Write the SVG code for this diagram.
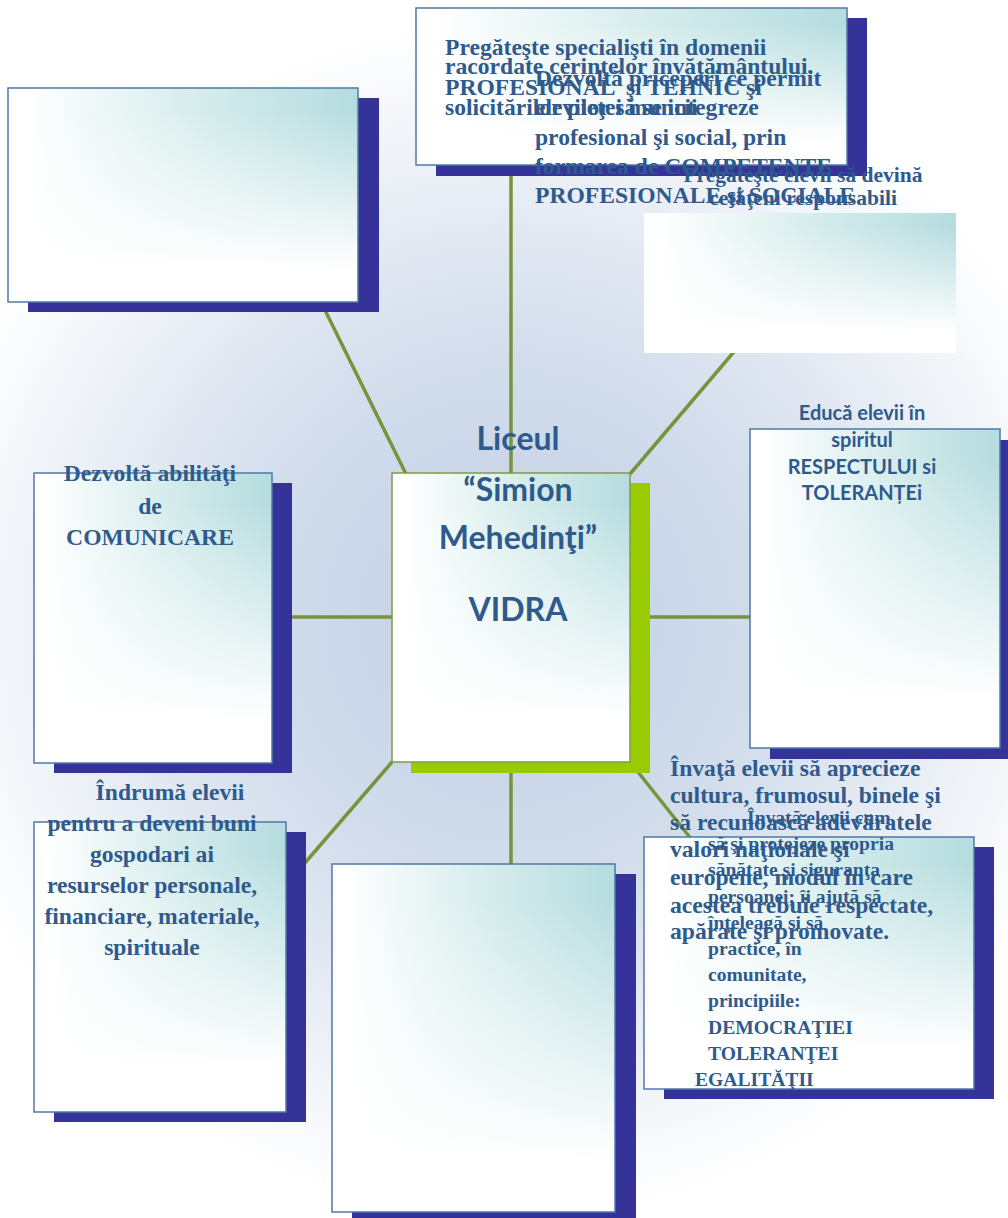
<svg xmlns="http://www.w3.org/2000/svg" width="1008" height="1218" viewBox="0 0 1008 1218">
<defs>
<radialGradient id="bg" gradientUnits="userSpaceOnUse" cx="510" cy="620" r="600">
<stop offset="0" stop-color="#c0d0e5"/>
<stop offset="0.45" stop-color="#d3ddec"/>
<stop offset="1" stop-color="#ffffff"/>
</radialGradient>
<linearGradient id="boxh" x1="0" y1="0" x2="1" y2="0">
<stop offset="0.05" stop-color="#ffffff"/>
<stop offset="0.55" stop-color="#d6ecec"/>
<stop offset="1" stop-color="#b5dcdf"/>
</linearGradient>
<linearGradient id="boxv" x1="0" y1="0" x2="0" y2="1">
<stop offset="0.1" stop-color="#ffffff" stop-opacity="0"/>
<stop offset="0.85" stop-color="#ffffff" stop-opacity="1"/>
</linearGradient>
<style>
.sh{fill:#353399}
.shg{fill:#99cc00}
.bh{fill:url(#boxh)}
.box{fill:url(#boxv);stroke:#4f78a8;stroke-width:1.5}
.cbox{fill:url(#boxv);stroke:#7f9a48;stroke-width:1.5}
.nb{fill:url(#boxv)}
.conn line{stroke:#77933c;stroke-width:3.5}
.t{font-family:"Liberation Serif","Times New Roman",serif;font-weight:bold;fill:#2f5a8c;font-size:23.6px}
.ts{font-size:21.5px}
.tm{font-size:19.6px}
.s{font-family:Lato,"Liberation Sans",sans-serif;font-weight:bold;fill:#2f5a8c}
.mid{text-anchor:middle}
</style>
</defs>
<rect width="1008" height="1218" fill="url(#bg)"/>
<g id="connectors" class="conn">
<line x1="511" y1="165" x2="511" y2="474"/>
<line x1="318" y1="296" x2="406" y2="474"/>
<line x1="744" y1="340" x2="630" y2="474"/>
<line x1="290" y1="617" x2="392" y2="617"/>
<line x1="650" y1="617" x2="752" y2="617"/>
<line x1="392" y1="762" x2="304" y2="864"/>
<line x1="511" y1="772" x2="511" y2="866"/>
<line x1="630" y1="762" x2="700" y2="850"/>
</g>
<g id="node-top-left">
<rect class="sh" x="28" y="98" width="351" height="214"/>
<rect class="bh" x="8" y="88" width="350" height="214"/>
<rect class="box" x="8" y="88" width="350" height="214"/>
</g>
<g id="node-top">
<rect class="sh" x="436" y="18" width="431" height="158"/>
<rect class="bh" x="416" y="8" width="431" height="157"/>
<rect class="box" x="416" y="8" width="431" height="157"/>
<text class="t" x="445" y="55">Pregăteşte specialişti în domenii</text>
<text class="t" x="445" y="74">racordate cerinţelor învăţământului.</text>
<text class="t" x="445" y="95" xml:space="preserve">PROFESIONAL  şi TEHNIC şi</text>
<text class="t" x="445" y="115">solicitărilor pieţei muncii</text>
</g>
<g id="label-competente">
<text class="t" x="535" y="86">Dezvoltă priceperi ce permit</text>
<text class="t" x="535" y="115">elevilor să se integreze</text>
<text class="t" x="535" y="145">profesional şi social, prin</text>
<text class="t" x="535" y="174">formarea de COMPETENTE</text>
<text class="t" x="535" y="203">PROFESIONALE şi SOCIALE</text>
</g>
<g id="node-top-right">
<rect class="bh" x="644" y="213" width="312" height="140"/>
<rect class="nb" x="644" y="213" width="312" height="140"/>
<text class="t ts mid" x="803" y="182">Pregăteşte elevii să devină</text>
<text class="t ts mid" x="803" y="205">cetăţeni responsabili</text>
</g>
<g id="node-right">
<rect class="sh" x="770" y="440" width="250" height="319"/>
<rect class="bh" x="750" y="429" width="250" height="319"/>
<rect class="box" x="750" y="429" width="250" height="319"/>
<text class="s mid" font-size="20" x="862" y="420">Educă elevii în</text>
<text class="s mid" font-size="20" x="862" y="447">spiritul</text>
<text class="s mid" font-size="20" x="862" y="474">RESPECTULUI si</text>
<text class="s mid" font-size="20" x="862" y="500">TOLERANȚEi</text>
</g>
<g id="node-left">
<rect class="sh" x="54" y="483" width="238" height="290"/>
<rect class="bh" x="34" y="473" width="238" height="290"/>
<rect class="box" x="34" y="473" width="238" height="290"/>
<text class="t mid" x="150" y="481">Dezvoltă abilităţi</text>
<text class="t mid" x="150" y="514">de</text>
<text class="t mid" x="150" y="545">COMUNICARE</text>
</g>
<g id="node-center">
<rect class="shg" x="411" y="483" width="239" height="290"/>
<rect class="bh" x="392" y="473" width="238" height="289"/>
<rect class="cbox" x="392" y="473" width="238" height="289"/>
<text class="s mid" font-size="32" x="518" y="450">Liceul</text>
<text class="s mid" font-size="32" x="518" y="501">“Simion</text>
<text class="s mid" font-size="32" x="518" y="549">Mehedinţi”</text>
<text class="s mid" font-size="32" x="518" y="621">VIDRA</text>
</g>
<g id="node-bottom-left">
<rect class="sh" x="54" y="832" width="252" height="290"/>
<rect class="bh" x="34" y="822" width="252" height="290"/>
<rect class="box" x="34" y="822" width="252" height="290"/>
<text class="t mid" x="170" y="800">Îndrumă elevii</text>
<text class="t mid" x="152" y="831">pentru a deveni buni</text>
<text class="t mid" x="152" y="862">gospodari ai</text>
<text class="t mid" x="152" y="893">resurselor personale,</text>
<text class="t mid" x="152" y="924">financiare, materiale,</text>
<text class="t mid" x="152" y="955">spirituale</text>
</g>
<g id="node-bottom">
<rect class="sh" x="352" y="874" width="284" height="350"/>
<rect class="bh" x="332" y="864" width="283" height="348"/>
<rect class="box" x="332" y="864" width="283" height="348"/>
</g>
<g id="node-bottom-right">
<rect class="sh" x="664" y="847" width="330" height="252"/>
<rect class="bh" x="644" y="837" width="330" height="252"/>
<rect class="box" x="644" y="837" width="330" height="252"/>
<text class="t tm" x="747" y="824">Învaţă elevii cum</text>
<text class="t tm" x="708" y="850">să şi protejeze propria</text>
<text class="t tm" x="708" y="876">sănătate şi siguranţa</text>
<text class="t tm" x="708" y="903">persoanei; îi ajută să</text>
<text class="t tm" x="708" y="929">înţeleagă şi să</text>
<text class="t tm" x="708" y="955">practice, în</text>
<text class="t tm" x="708" y="981">comunitate,</text>
<text class="t tm" x="708" y="1007">principiile:</text>
<text class="t tm" x="708" y="1034">DEMOCRAŢIEI</text>
<text class="t tm" x="708" y="1060">TOLERANŢEI</text>
<text class="t tm" x="695" y="1086">EGALITĂŢII</text>
</g>
<g id="label-valori">
<text class="t" x="670" y="776">Învaţă elevii să aprecieze</text>
<text class="t" x="670" y="803">cultura, frumosul, binele şi</text>
<text class="t" x="670" y="830">să recunoască adevăratele</text>
<text class="t" x="670" y="857">valori naţionale şi</text>
<text class="t" x="670" y="885">europene, modul în care</text>
<text class="t" x="670" y="913">acestea trebuie respectate,</text>
<text class="t" x="670" y="939">apărate şi promovate.</text>
</g>
</svg>
